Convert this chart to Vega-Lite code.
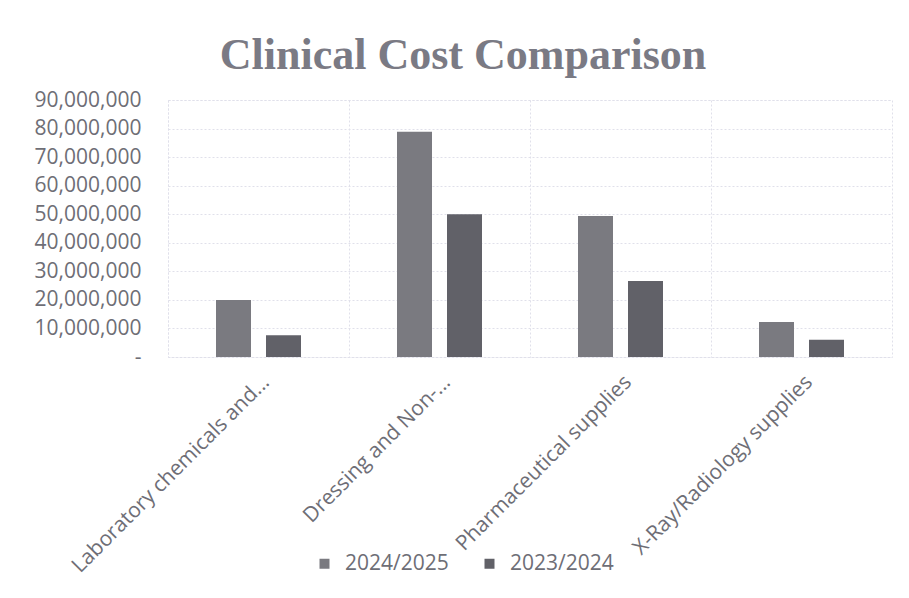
{
  "$schema": "https://vega.github.io/schema/vega-lite/v6.json",
  "width": 724,
  "height": 257,
  "autosize": {"type": "none"},
  "padding": {"left": 168, "top": 100, "right": 17, "bottom": 241},
  "background": "#ffffff",
  "title": {
    "text": "Clinical Cost Comparison",
    "font": "Liberation Serif",
    "fontSize": 44,
    "fontWeight": "bold",
    "color": "#7a7a84",
    "anchor": "middle",
    "frame": "bounds",
    "offset": 11
  },
  "view": {"stroke": "#e0e0ea", "strokeDash": [2, 2], "strokeWidth": 1},
  "data": {
    "values": [
      {"category": "Laboratory chemicals and...", "year": "2024/2025", "cost": 20000000},
      {"category": "Laboratory chemicals and...", "year": "2023/2024", "cost": 7600000},
      {"category": "Dressing and Non-...", "year": "2024/2025", "cost": 78900000},
      {"category": "Dressing and Non-...", "year": "2023/2024", "cost": 50000000},
      {"category": "Pharmaceutical supplies", "year": "2024/2025", "cost": 49400000},
      {"category": "Pharmaceutical supplies", "year": "2023/2024", "cost": 26600000},
      {"category": "X-Ray/Radiology supplies", "year": "2024/2025", "cost": 12300000},
      {"category": "X-Ray/Radiology supplies", "year": "2023/2024", "cost": 6000000}
    ]
  },
  "mark": {"type": "bar"},
  "encoding": {
    "x": {
      "field": "category",
      "type": "nominal",
      "sort": null,
      "scale": {"paddingInner": 0, "paddingOuter": 0},
      "axis": {
        "title": null,
        "labelAngle": -45,
        "labelFont": "Open Sans",
        "labelFontSize": 21,
        "labelColor": "#6e6e76",
        "labelPadding": 14,
        "labelLimit": 400,
        "domain": false,
        "ticks": false,
        "grid": true,
        "bandPosition": 0,
        "gridColor": "#e0e0ea",
        "gridDash": [2, 2]
      }
    },
    "xOffset": {
      "field": "year",
      "type": "nominal",
      "sort": ["2024/2025", "2023/2024"],
      "scale": {"paddingInner": 0.3, "paddingOuter": 0.96}
    },
    "y": {
      "field": "cost",
      "type": "quantitative",
      "scale": {"domain": [0, 90000000]},
      "axis": {
        "title": null,
        "values": [0, 10000000, 20000000, 30000000, 40000000, 50000000, 60000000, 70000000, 80000000, 90000000],
        "labelExpr": "datum.value == 0 ? '-\u00a0\u00a0\u00a0\u00a0' : format(datum.value, ',')",
        "labelFont": "Open Sans",
        "labelFontSize": 21,
        "labelColor": "#6e6e76",
        "labelPadding": 27,
        "domain": false,
        "ticks": false,
        "gridColor": "#e0e0ea",
        "gridDash": [2, 2]
      }
    },
    "color": {
      "field": "year",
      "type": "nominal",
      "scale": {"domain": ["2024/2025", "2023/2024"], "range": ["#7a7a80", "#616168"]},
      "legend": {
        "title": null,
        "orient": "none",
        "direction": "horizontal",
        "legendX": 146,
        "legendY": 453,
        "symbolType": "square",
        "symbolSize": 100,
        "symbolStrokeWidth": 0,
        "labelFont": "Open Sans",
        "labelFontSize": 21,
        "labelColor": "#6e6e76",
        "labelOffset": 10,
        "columnPadding": 30
      }
    }
  },
  "config": {"bar": {"stroke": null}}
}
